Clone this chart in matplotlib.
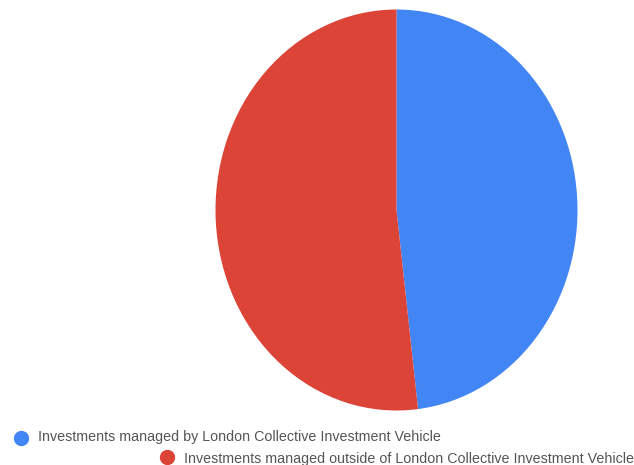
import matplotlib
matplotlib.use("Agg")
import matplotlib.pyplot as plt
from matplotlib.lines import Line2D

labels = ["Investments managed by London Collective Investment Vehicle",
          "Investments managed outside of London Collective Investment Vehicle"]
values = [48.1, 51.9]
colors = ["#4285f4", "#db4437"]

W, H = 634, 465
fig = plt.figure(figsize=(W / 100, H / 100), dpi=100)
plt.rcParams['font.family'] = ['Liberation Sans', 'DejaVu Sans']

left, right, top, bottom = 215.5, 577.5, 9.5, 410.5
ax = fig.add_axes([left / W, (H - bottom) / H, (right - left) / W, (bottom - top) / H])
ax.pie(values, colors=colors, startangle=90, counterclock=False,
       wedgeprops=dict(linewidth=0), radius=1)
ax.set_aspect('auto')
ax.set_xlim(-1, 1)
ax.set_ylim(-1, 1)
ax.axis('off')

# legend entries: (marker x, marker y, text x, text baseline y) in pixels
entries = [(21, 437.5, 38, 441), (167, 457, 184, 462.5)]
for (mx, my, tx, ty), lab, col in zip(entries, labels, colors):
    fig.add_artist(Line2D([mx / W], [1 - my / H], marker='o', markersize=10,
                          color=col, linestyle='none', transform=fig.transFigure))
    fig.text(tx / W, 1 - ty / H, lab, fontsize=10.3, color='#555555',
             va='baseline', ha='left')

fig.savefig("out.png", dpi=100)
